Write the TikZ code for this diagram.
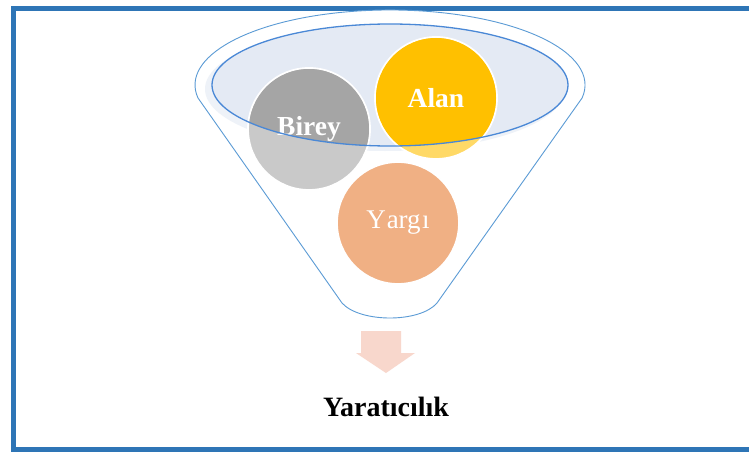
\documentclass[tikz,border=0pt]{standalone}
\usepackage{fontspec}
\setmainfont{Liberation Serif}
\begin{document}
\begin{tikzpicture}[x=1pt,y=1pt,
  framecol/.style={draw=frameblue,line width=5pt},
  funnelline/.style={draw=funnelblue,line width=0.9pt},
  ball/.style={circle,minimum size=122pt,inner sep=0pt,draw=white,line width=1.8pt,text=white,font=\fontsize{27}{29}\selectfont},
  ballbold/.style={ball,font=\bfseries\fontsize{27.5}{29}\selectfont}]
\definecolor{frameblue}{HTML}{2E75B6}
\definecolor{funnelblue}{HTML}{5B9BD5}
\definecolor{rimblue}{HTML}{4A88D6}
\definecolor{rimfill}{HTML}{E4EAF4}
\definecolor{rimshade}{HTML}{EEF2F8}
\definecolor{greydark}{HTML}{A5A5A5}
\definecolor{greylight}{HTML}{C9C9C9}
\definecolor{golddark}{HTML}{FFC000}
\definecolor{goldlight}{HTML}{FFD966}
\definecolor{peach}{HTML}{F0B084}
\definecolor{arrowpink}{HTML}{F8D7CC}
\useasboundingbox (0,0) rectangle (749,451);
\clip (0,0) rectangle (749,451);
\fill[white] (0,0) rectangle (749,451);

% outer frame (right side runs off the page)
\draw[framecol] (13.5,442.5) rectangle (780,1.5);

% funnel body: upper rim arc, tapering sides and rounded spout
\path[funnelline,fill=white]
  (198,353) arc[start angle=190,end angle=-10,x radius=195,y radius=75]
  -- (437,148) .. controls (420,128) and (360,128) .. (342,148) -- cycle;

% inner rim of the funnel
\fill[rimshade] (385,362) ellipse[x radius=180,y radius=62];
\fill[rimfill] (390,366) ellipse[x radius=178,y radius=61];

% balls, lighter where they stick out below the rim
\node[ball,fill=greylight] (birey) at (309,322) {};
\node[ball,fill=goldlight] (alan) at (436,353) {};
\node[ball,fill=peach] (yargi) at (398,228) {Y\kern1pt arg\kern1.5pt ı};
\begin{scope}
  \clip (390,366) ellipse[x radius=178,y radius=61];
  \fill[greydark] (birey.center) circle[radius=60];
  \fill[golddark] (alan.center) circle[radius=60];
\end{scope}
\node[ballbold,draw=none] at (birey.center) {Birey};
\node[ballbold,draw=none] at (alan.center) {Alan};

% rim outline on top
\draw[draw=rimblue,line width=1.3pt] (390,366) ellipse[x radius=178,y radius=61];

% downward arrow
\fill[arrowpink] (361,120) -- (401,120) -- (401,98) -- (415,98) -- (386,78)
  -- (356,98) -- (361,98) -- cycle;

\node[font=\bfseries\fontsize{28}{30}\selectfont] (result) at (386,44) {Yaratıcılık};
\end{tikzpicture}
\end{document}
